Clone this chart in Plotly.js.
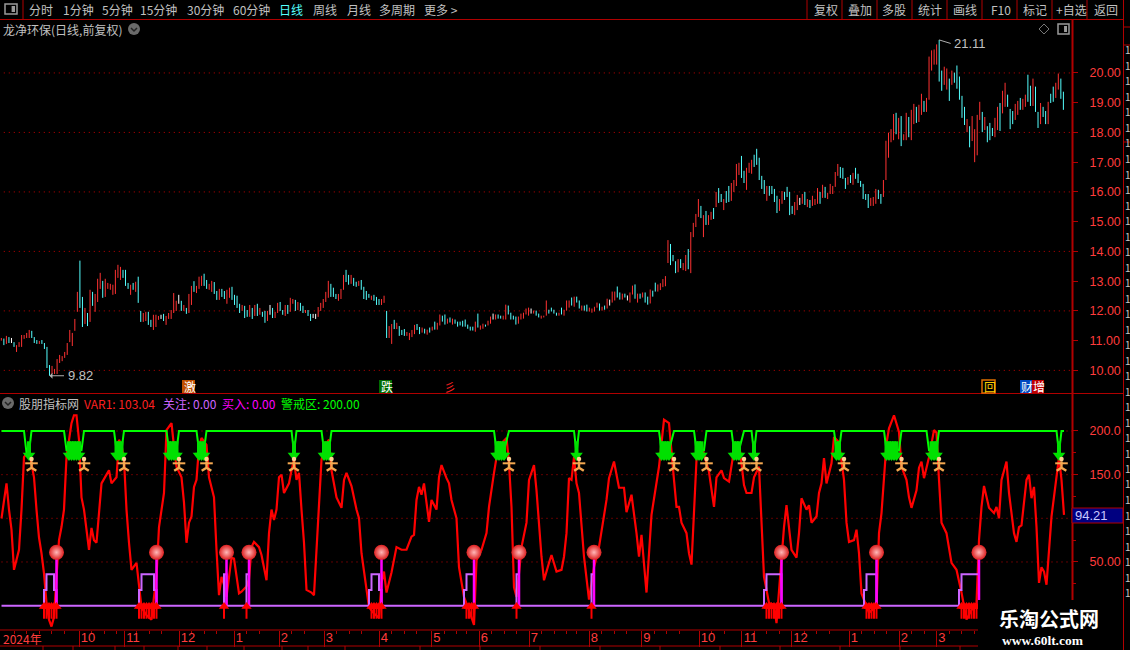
<!DOCTYPE html>
<html><head><meta charset="utf-8">
<script src="https://cdn.plot.ly/plotly-3.0.1.min.js"></script>
<style>html,body{margin:0;padding:0;background:#000}#chart{width:1130px;height:650px}</style>
</head><body><div id="chart"></div>
<script>
// ---------- price bars (one entry per bar) ----------
const priceHigh=[
11.09,11.07,11.16,11.12,11.09,10.95,10.85,10.95,11.19,11.19,11.26,11.36,11.33,11.12,11.02,10.99,11.02,10.92,10.79,10.18,
10.15,10.05,10.38,10.52,10.48,10.62,10.92,11.36,11.26,11.73,12.64,13.69,12.47,12.1,11.93,12.71,12.64,12.57,13.08,13.28,
13.01,13.08,12.94,12.91,12.88,13.38,13.55,13.48,13.38,13.38,12.94,12.88,12.94,12.98,13.15,12.0,11.93,11.97,11.97,11.7,
11.87,11.87,11.83,11.87,11.9,11.83,11.93,12.03,12.6,12.34,12.54,12.34,12.2,12.1,12.57,12.84,13.0,12.84,13.15,
13.18,13.25,13.04,12.91,13.01,12.97,12.67,12.74,12.74,12.67,12.71,12.78,12.81,12.54,12.51,12.24,12.2,12.17,12.03,12.2,
12.1,12.2,12.24,12.1,11.97,12.0,12.0,12.2,12.1,11.97,12.27,12.3,12.03,12.2,12.2,12.44,12.4,12.37,12.3,12.27,
12.17,12.03,12.03,11.9,11.9,11.9,12.13,12.27,12.4,12.64,13.01,12.91,12.78,12.57,12.57,12.74,13.21,13.38,13.21,13.21,
13.11,12.98,13.01,13.04,12.81,12.67,12.57,12.51,12.54,12.47,12.4,12.4,12.51,12.0,11.49,11.56,11.7,11.6,11.49,11.36,
11.39,11.29,11.26,11.36,11.53,11.56,11.46,
11.44,11.4,11.37,11.44,11.47,11.64,11.6,11.88,11.84,11.88,11.74,11.78,11.74,11.71,11.64,11.64,11.67,11.71,11.54,11.47,
11.47,11.64,11.91,11.51,11.57,11.54,11.67,11.81,11.91,11.88,11.88,11.84,11.84,12.21,12.18,11.94,11.84,11.81,11.81,11.91,
11.94,12.08,12.11,12.08,12.01,12.01,11.91,11.84,11.84,12.35,12.04,12.11,12.04,11.94,11.94,12.11,12.04,12.35,12.35,12.45,
12.48,12.48,12.35,12.18,12.18,12.21,12.11,12.08,12.14,12.28,12.25,12.14,12.18,12.41,12.38,12.65,12.65,12.82,12.62,12.58,
12.58,12.52,12.62,12.85,12.89,12.58,12.58,12.62,12.62,12.48,12.72,12.68,12.95,12.89,
12.93,13.07,13.17,14.38,14.25,13.88,13.67,13.74,13.74,13.61,13.88,14.08,14.65,14.96,15.26,15.76,15.53,15.22,15.36,15.22,
15.33,15.46,16,16.13,15.93,15.76,16.03,16.2,16.3,16.4,16.94,16.98,17.21,16.71,16.81,16.98,17.08,17.25,17.45,17.15,
16.54,16.4,16.2,16.2,16.2,16.1,15.87,15.76,16.03,16,16.17,16,15.53,15.66,15.9,15.8,15.93,16,15.76,15.73,
15.87,15.76,16.13,16,16.24,16.17,15.97,16.27,16.2,16.67,16.94,16.84,16.81,16.47,16.5,16.57,16.64,16.81,16.61,16.37,
16.27,15.93,15.93,15.8,15.83,16.1,16.07,15.93,16.4,17.72,17.99,18.11,18.62,18.66,18.49,
18.55,17.94,18.66,18.52,18.76,18.96,18.86,18.93,19.3,19.06,19.16,20.55,20.76,20.79,20.96,21.11,20.08,20.21,20.15,19.81,
20.08,20.01,20.25,19.88,19.23,18.86,18.45,18.21,18.55,18.11,18.59,19.03,18.69,18.52,18.21,18.32,18.15,18.49,18.86,18.99,
19.4,19.67,19.27,18.79,18.72,18.96,19.06,19.16,19.13,19.27,19.94,19.57,19.81,19.54,18.69,18.99,18.86,18.72,19.03,19.3,
19.54,19.67,19.98,19.81,19.37];
const priceLow=[
11.0,10.85,10.89,10.92,10.92,10.79,10.62,10.79,10.79,11.06,11.09,11.09,11.09,10.92,10.89,10.89,10.89,10.72,10.08,9.82,
9.88,9.88,9.88,10.25,10.31,10.42,10.52,10.95,10.82,11.33,11.97,12.1,11.46,11.56,11.49,11.63,12.17,11.97,12.3,12.74,
12.44,12.47,12.74,12.71,12.54,12.57,13.11,13.04,13.11,12.84,12.74,12.54,12.71,12.64,12.27,11.63,11.63,11.66,11.53,11.46,
11.36,11.46,11.7,11.73,11.66,11.53,11.73,11.73,11.93,12.0,12.24,12.0,12.0,11.9,11.93,12.2,12.64,12.6,12.74,
12.84,12.84,12.74,12.71,12.64,12.57,12.37,12.37,12.47,12.4,12.24,12.44,12.37,12.2,12.1,11.93,12.0,11.76,11.8,11.8,
11.73,11.83,11.83,11.87,11.8,11.6,11.66,11.87,11.76,11.76,11.93,12.0,11.87,11.83,11.9,11.97,12.24,12.0,12.03,12.0,
11.93,11.93,11.83,11.66,11.76,11.73,11.8,12.0,12.1,12.3,12.44,12.47,12.47,12.4,12.34,12.4,12.71,12.97,12.88,12.91,
12.84,12.81,12.84,12.71,12.4,12.37,12.44,12.37,12.34,12.2,12.2,12.2,12.27,11.09,11.09,10.89,11.39,11.39,11.16,11.19,
11.16,11.16,11.02,11.12,11.22,11.36,11.22,
11.27,11.24,11.2,11.27,11.34,11.37,11.37,11.51,11.64,11.54,11.57,11.61,11.54,11.57,11.47,11.51,11.47,11.47,11.4,11.34,
11.34,11.3,11.44,11.37,11.4,11.47,11.51,11.57,11.71,11.71,11.74,11.74,11.71,11.71,11.88,11.71,11.71,11.54,11.57,11.71,
11.74,11.88,11.84,11.91,11.91,11.84,11.78,11.74,11.78,11.84,11.91,11.98,11.91,11.84,11.84,11.88,11.84,12.01,12.11,12.18,
12.14,12.28,12.08,12.01,12.01,11.98,11.98,11.94,11.98,12.11,12.01,12.01,12.04,12.08,12.18,12.28,12.35,12.45,12.38,12.38,
12.45,12.35,12.28,12.55,12.41,12.28,12.41,12.45,12.28,12.21,12.25,12.48,12.65,12.65,
12.7,12.8,12.83,13.61,13.54,13.67,13.27,13.3,13.44,13.37,13.34,13.4,13.27,14.48,14.82,15.16,15.12,14.48,14.89,14.89,
15.06,15.09,15.49,15.63,15.66,15.39,15.63,15.66,15.7,16,16.2,16.57,16.47,16.3,16.07,16.64,16.61,16.84,16.91,16.4,
16.1,15.93,15.7,15.87,15.93,15.66,15.29,15.36,15.6,15.73,15.83,15.22,15.26,15.22,15.39,15.56,15.6,15.56,15.49,15.46,
15.53,15.56,15.6,15.6,15.8,15.8,15.76,15.93,15.93,16.17,16.54,16.47,16.44,16.1,16.24,16.3,16.24,16.44,16.3,16.17,
15.76,15.73,15.46,15.53,15.53,15.6,15.76,15.6,15.83,16.4,17.15,17.67,17.74,17.94,17.77,
17.54,17.74,17.74,17.84,17.74,18.28,18.32,18.35,18.59,18.69,18.69,19.1,20.08,20.28,20.28,19.71,19.4,19.6,19.44,19.06,
19.6,19.67,19.47,19.1,18.49,18.25,18.01,17.5,17.71,17,17.23,18.42,18.01,18.08,17.67,17.74,17.88,17.84,18.08,18.05,
18.64,18.86,18.86,18.11,18.28,18.42,18.59,18.76,18.76,18.86,19.03,18.89,18.89,18.69,18.15,18.28,18.52,18.28,18.28,18.99,
19.03,19.16,19.44,19.13,18.76];
// r = rising bar, c = falling bar, w = flat bar
const barKinds=[
"rcrcwcrrrr","rrcccrcccc","rrrrrrrrrr","rccrcrcrrr","crrrrrrrcc","crcrccrrcc","rrrwcrrrrr","wcrcrrcrr",
"rccrrccrcc","rrccccrccr","crcrccrwcr","rccrcrrcrc","crccwwrrrr","rcccrrrccr","ccrccccrcc","crrcrrcrcc","crrrrcc",
"rcrcrcrrcc","rcrccccccc","crcrrcrrwr","ccrrccccrr","rrrwrccrrr","ccccrcrrrc","rccrccrrrr","crcrwrrccr","cwrrcrcrcc","rccr",
"rrrrcccrcr","rcrrrrcrcr","rcrccrccrr","rrccrrrccc","ccrccccrrc","cccrrwrcrc","rrrcrcrrrr","rcccrcrccc","cccrrrccrr","rrrcr",
"crrcrrcrrc","rrrrrccrrc","rcccccrcrr","rrcrcccrrc","rrcccrrcrr","ccrccrccrc","crrcc"
].join("").split("");
const barIndex=priceHigh.map((_,i)=>i);

// ---------- indicator series ----------
const var1Bars=[0,2,3,4,5,6,7,8,9,11,13,14,15,16,17,18,19,20,21,22,23,24,25,26,27,28,29,30,31,32,33,34,35,36,37,38,39,40,42,43,44,46,47,48,49,50,51,52,54,55,56,58,60,61,62,63,64,65,66,68,69,70,72,73,74,75,76,77,78,79,80,82,83,85,86,87,88,89,90,91,92,93,95,96,98,99,100,101,103,104,106,107,108,109,110,111,112,113,115,116,117,118,119,120,121,122,124,125,127,128,130,131,132,134,136,137,138,140,142,143,144,146,147,149,151,152,153,154,156,158,160,
162,164,165,166,167,168,169,170,171,172,174,175,176,178,179,180,182,183,185,187,189,190,192,194,195,197,198,199,200,202,203,204,205,206,207,208,210,211,213,214,216,217,219,220,222,224,225,226,227,228,229,230,231,233,235,237,239,242,243,245,247,249,250,252,254,255,256,258,260,263,265,267,269,270,271,272,274,275,276,277,278,279,280,283,285,286,288,289,291,293,295,297,298,300,301,303,304,305,307,309,310,312,313,314,316,318,319,320,322,323,324,326,327,328,329,330,332,333,335,337,338,
339,341,342,343,344,345,347,350,351,352,353,354,355,357,359,360,362,363,364,366,367,368,369,371,373,374,375,376,378,380,382,384,386,388,390,391,392,393,395,397,398,399,400,402,403,405,406,407,408,410,411,412,413,414,415,416,417,418,420,422,423,424,425];
const var1Values=[100,140,110,87,41,52,64,110,170,178,147,110,78,60,37,3,-16,-24,-13,33,75,90,110,170,190,209,218,218,190,124,110,87,64,89,75,72,110,140,150,155,140,147,190,184,167,110,72,41,49,21,-2,-11,-16,10,33,90,110,129,201,209,182,159,147,118,72,95,102,136,144,182,192,184,147,124,64,12,33,24,10,30,55,54,14,16,22,30,67,73,67,58,29,83,110,98,110,147,150,129,140,155,167,144,152,110,72,18,15,12,110,167,186,190,155,124,112,144,152,137,110,100,60,18,-2,-9,-14,26,39,15,38,67,64,
64,79,81,121,136,127,140,118,96,121,110,147,161,146,140,121,100,44,10,-5,-22,52,64,83,113,152,170,187,186,192,163,113,21,10,37,67,95,144,161,132,56,29,49,58,39,41,56,83,146,144,170,140,129,56,7,44,67,121,146,165,135,135,107,127,83,56,81,15,104,159,213,209,144,113,113,95,83,60,47,102,167,187,184,153,113,147,155,146,142,178,187,138,129,129,147,159,102,33,3,1,-20,56,90,115,64,55,83,123,110,115,95,102,129,140,169,140,163,193,187,144,95,
73,75,87,60,14,7,-8,-1,83,106,147,186,203,218,199,159,144,124,112,132,158,165,146,170,201,198,144,95,83,49,41,15,-16,-5,3,75,113,137,112,106,113,100,144,165,129,83,73,90,92,144,150,123,136,90,26,44,39,24,102,152,170,144,104];
// warning-zone line: stays at 200, dips where VAR1 is in the warning band
const alertBars=[0,9,10,11,12,25,26,32,33,45,46,48,49,66,67,70,71,78,79,81,82,116,117,118,128,129,131,132,197,198,201,203,229,230,231,263,264,267,269,277,278,281,282,292,293,295,297,300,301,302,333,334,335,336,353,354,359,360,370,371,374,375,422,423,424,425];
const alertValues=[200,200,175,175,200,200,178,178,200,200,178,178,200,200,178,178,200,200,178,178,200,200,175,200,200,178,178,200,200,178,178,200,200,175,200,200,178,178,200,200,178,178,200,200,178,178,200,200,175,200,200,178,178,200,200,178,178,200,200,178,178,200,200,175,200,200];
const watchBars=[0,16,17,18,20,21,22,54,55,56,60,61,62,88,89,90,97,98,99,146,147,148,150,151,152,184,185,186,188,189,205,206,207,235,236,237,304,305,306,311,312,344,345,346,349,350,382,383,384,390,391,425];
const watchValues=[0,0,18,36,36,18,0,0,18,36,36,18,0,0,36,0,0,36,0,0,18,36,36,18,0,0,18,36,36,0,0,36,0,0,36,0,0,18,36,36,0,0,18,36,36,0,0,18,36,36,0,0];
const buyBars=[22,62,90,99,152,189,207,237,312,350,391];
const buyStickTop=[69,69,69,69,69,69,69,69,69,69,69];
const buyBallLevel=[61,61,61,61,61,61,61,61,61,61,61];
const alertArrowBars=[11,27,28,29,30,31,46,47,48,67,68,69,70,79,80,81,117,129,130,131,198,199,200,201,230,264,265,266,267,278,279,280,293,294,295,301,334,335,354,355,356,357,358,372,373,374,423];
const watchArrowBars=[17,18,19,20,21,22,55,56,57,58,59,60,61,62,89,98,148,149,150,151,152,186,187,188,189,206,236,306,307,308,309,310,311,312,346,347,348,349,350,384,385,386,387,388,389,390];
const runnerBars=[12,33,49,71,82,117,132,203,231,269,282,297,302,337,360,375,424];

// ---------- axis texts ----------
const monthTickBars=[31,49,71,93,111,129,151,172,191,211,235,256,279,296,316,339,359,374];
const monthTickLabels=["10","11","12","1\u00a0\u00a0","2\u00a0\u00a0","3\u00a0\u00a0","4\u00a0\u00a0","5\u00a0\u00a0","6\u00a0\u00a0","7\u00a0\u00a0","8\u00a0\u00a0","9\u00a0\u00a0","10","11","12","1\u00a0\u00a0","2\u00a0\u00a0","3\u00a0\u00a0"];
const priceTicks=[10,11,12,13,14,15,16,17,18,19,20];
const priceGridLevels=[10,12,14,16,18,20];
const indicatorLevels=[200,150,100,50];
const indicatorTickText=["200.0","150.0","","50.00"];
const leftTools=[["分时",28],["1分钟",62],["5分钟",101],["15分钟",139],["30分钟",186],["60分钟",232],["日线",278],["周线",312],["月线",346],["多周期",378],["更多 >",423]];
const rightTools=[["复权",813],["叠加",847],["多股",881],["统计",917],["画线",952],["F10",990],["标记",1022],["+自选",1055],["返回",1093]];
const toolSeparators=[807,842,877,912,947,982,1017,1052,1087];
const footSeparators=[43,73,115,144,178,207,244,282,308,345,420,480,540,600,660,720,780,840,900,960];

// ---------- layout helpers ----------
const W=1130,H=650,RED="#b00000",NUM="'Liberation Sans Narrow','Liberation Sans',sans-serif",CJK="'Noto Sans CJK SC',sans-serif";
const px=x=>x/W, py=y=>1-y/H;
function label(text,x,y,color,size,opt={}){return Object.assign({xref:"paper",yref:"paper",x:px(x),y:py(y),xanchor:"left",yanchor:"middle",showarrow:false,text,borderpad:0,font:{family:CJK,size,color}},opt);}
function hline(y,x0,x1,c=RED,w=1){return {type:"line",xref:"paper",yref:"paper",x0:px(x0),x1:px(x1),y0:py(y),y1:py(y),line:{color:c,width:w}};}
function vline(x,y0,y1,c=RED,w=1){return {type:"line",xref:"paper",yref:"paper",x0:px(x),x1:px(x),y0:py(y0),y1:py(y1),line:{color:c,width:w}};}
function box(x0,y0,x1,y1,fill,border,w=1){return {type:"rect",xref:"paper",yref:"paper",x0:px(x0),x1:px(x1),y0:py(y0),y1:py(y1),fillcolor:fill,line:{color:border||fill,width:border?w:0}};}
function outline(points,c,w,close){return {type:"path",xref:"paper",yref:"paper",path:points.map((p,i)=>(i?"L":"M")+px(p[0])+" "+py(p[1])).join(" ")+(close?" Z":""),line:{color:c,width:w}};}
function chevronIcon(x,y){return [{type:"circle",xref:"paper",yref:"paper",x0:px(x-6),x1:px(x+6),y0:py(y-6),y1:py(y+6),fillcolor:"#6a6a6a",line:{width:0}},outline([[x-3,y-1],[x,y+2],[x+3,y-1]],"#222",1.5)];}
function panelIcon(x,y,w,h,c){return [box(x,y,x+w,y+h,"rgba(0,0,0,0)",c,1.5),box(x+w*0.55,y+2,x+w-2,y+h-2,c)];}

// ---------- traces ----------
const priceColor={r:"#ff3232",c:"#54ffff",w:"#ffffff"};
const traces=[];
["r","c","w"].forEach(k=>{
  const idx=barIndex.filter(i=>barKinds[i]===k);
  const up=k!=="c";
  traces.push({type:"ohlc",xaxis:"x",yaxis:"y",x:idx,
    open:idx.map(i=>up?priceLow[i]:priceHigh[i]),high:idx.map(i=>priceHigh[i]),
    low:idx.map(i=>priceLow[i]),close:idx.map(i=>up?priceHigh[i]:priceLow[i]),
    tickwidth:0,increasing:{line:{color:priceColor[k],width:1}},decreasing:{line:{color:priceColor[k],width:1}},
    hoverinfo:"skip",showlegend:false});
});
const lowerAxes={xaxis:"x2",yaxis:"y2",hoverinfo:"skip",showlegend:false};
function stems(bars,tops){const x=[],y=[];bars.forEach((b,i)=>{x.push(b,b,null);y.push(0,tops[i],null);});return {x,y};}
traces.push(Object.assign({type:"scatter",mode:"lines",x:var1Bars,y:var1Values,line:{color:"#ff0000",width:2.2}},lowerAxes));
traces.push(Object.assign({type:"scatter",mode:"lines",x:alertBars,y:alertValues,line:{color:"#00ff00",width:2}},lowerAxes));
traces.push(Object.assign({type:"scatter",mode:"lines",x:watchBars,y:watchValues,line:{color:"#cc66ff",width:2,shape:"hv"}},lowerAxes));
traces.push(Object.assign({type:"scatter",mode:"lines",line:{color:"#ff00ff",width:2.5}},stems(buyBars,buyStickTop),lowerAxes));
traces.push(Object.assign({type:"scatter",mode:"markers",x:alertArrowBars,y:alertArrowBars.map(()=>181),marker:{symbol:"line-ns",size:9,line:{color:"#00e000",width:4}}},lowerAxes));
traces.push(Object.assign({type:"scatter",mode:"markers",x:alertArrowBars,y:alertArrowBars.map(()=>172),marker:{symbol:"triangle-down",size:11,color:"#00e000",line:{width:0}}},lowerAxes));
traces.push(Object.assign({type:"scatter",mode:"markers",x:watchArrowBars,y:watchArrowBars.map(()=>-7),marker:{symbol:"line-ns",size:10,line:{color:"#ff0000",width:2}}},lowerAxes));
traces.push(Object.assign({type:"scatter",mode:"markers",x:watchArrowBars,y:watchArrowBars.map(()=>-1),marker:{symbol:"triangle-up",size:9,color:"#ff0000",line:{width:0}}},lowerAxes));
traces.push(Object.assign({type:"scatter",mode:"markers",x:runnerBars,y:runnerBars.map(()=>158),marker:{symbol:"y-up",size:8,line:{color:"#f4a850",width:2.4}}},lowerAxes));
traces.push(Object.assign({type:"scatter",mode:"markers",x:runnerBars,y:runnerBars.map(()=>163),marker:{symbol:"line-ew",size:9,line:{color:"#f4a850",width:2}}},lowerAxes));
traces.push(Object.assign({type:"scatter",mode:"markers",x:runnerBars,y:runnerBars.map(()=>168),marker:{symbol:"circle",size:4.5,color:"#ffd090",line:{width:0}}},lowerAxes));
traces.push(Object.assign({type:"scatter",mode:"markers",x:buyBars,y:buyBallLevel,marker:{symbol:"circle",size:15,color:"#dd2020",gradient:{type:"radial",color:"#ffb8b8"},line:{width:0}}},lowerAxes));

// ---------- shapes ----------
const shapes=[];
priceGridLevels.forEach(v=>shapes.push({type:"line",layer:"below",xref:"x",yref:"y",x0:-1,x1:423,y0:v,y1:v,line:{color:"#c00000",width:1,dash:"1px,4px"}}));
indicatorLevels.forEach(v=>shapes.push({type:"line",layer:"below",xref:"x2",yref:"y2",x0:0,x1:429,y0:v,y1:v,line:{color:"#c00000",width:1,dash:"1px,4px"}}));
shapes.push(hline(19.5,0,1123),hline(393.5,0,1123),vline(23,0,19),vline(1072.5,19,630,RED,2),vline(1123.5,0,650),hline(27,1123,1130),hline(45,1123,1130),hline(142,1123,1130));
toolSeparators.forEach(x=>shapes.push(vline(x,0,19)));
shapes.push(hline(630,0,1072),hline(646,0,1072));
footSeparators.forEach(x=>shapes.push(vline(x,646,650)));
shapes.push(box(1072,508,1123,523,"#000080",RED));
panelIcon(5,4,12,10,"#9a9a9a").forEach(s=>shapes.push(s));
panelIcon(1058,24,11,10,"#9a9a9a").forEach(s=>shapes.push(s));
shapes.push(outline([[1044,24],[1049,29],[1044,34],[1039,29]],"#777",1,true));
chevronIcon(134,29).forEach(s=>shapes.push(s));
chevronIcon(8,403).forEach(s=>shapes.push(s));
shapes.push(box(182,380,195,393,"#c04f00"),box(379,380,392,393,"#006b00"),box(982,380,995,393,"#000","#e07000",1.5),box(1020,380,1032,393,"#0048c0"),box(1032,380,1044,393,"#c00000"));
shapes.push(box(978,600,1123,650,"#000"));

// ---------- annotations ----------
const notes=[];
leftTools.forEach(([t,x])=>notes.push(label(t,x,9.5,t==="日线"?"#55ffff":"#c0c0c0",12)));
rightTools.forEach(([t,x])=>notes.push(label(t,x,9.5,"#c0c0c0",12)));
notes.push(label("龙净环保(日线,前复权)",2,29.5,"#c0c0c0",12));
notes.push(label("股朋指标网",18,403.5,"#c0c0c0",12));
notes.push(label("VAR1: 103.04",83,403.5,"#ff2020",12));
notes.push(label("关注: 0.00",162,403.5,"#cc66ff",12));
notes.push(label("买入: 0.00",221,403.5,"#ff00ff",12));
notes.push(label("警戒区: 200.00",280,403.5,"#00ff00",12));
notes.push(label("2024年",2,638,"#ff3c3c",12));
notes.push(label("94.21",1074,515.5,"#c8c8ff",13,{font:{family:NUM,size:13,color:"#c8c8ff"}}));
[["激",183,"#ffffff"],["跌",380,"#ffffff"],["彡",443,"#ff2020"],["回",983,"#ffd000"],["财",1020,"#ffffff"],["增",1032,"#ffffff"]].forEach(([t,x,c])=>notes.push(label(t,x,386.5,c,12)));
notes.push(label("乐淘公式网",998,618.5,"#ffffff",20,{font:{family:"'Noto Sans CJK SC',sans-serif",size:20,color:"#ffffff",weight:700}}));
notes.push(label("www.60lt.com",1001,640.5,"#ffffff",13,{font:{family:"'Liberation Serif',serif",size:13.5,color:"#ffffff",weight:700}}));
const highBar=priceHigh.indexOf(Math.max(...priceHigh)), lowBar=priceLow.indexOf(Math.min(...priceLow));
notes.push({xref:"x",yref:"y",x:highBar,y:Math.max(...priceHigh),ax:13,ay:4,showarrow:true,arrowhead:0,arrowwidth:1,arrowcolor:"#b0b0b0",text:""});
notes.push({xref:"x",yref:"y",x:highBar,y:Math.max(...priceHigh),xshift:13,yshift:-4,xanchor:"left",yanchor:"middle",showarrow:false,text:"21.11",font:{family:NUM,size:13,color:"#c0c0c0"}});
notes.push({xref:"x",yref:"y",x:lowBar,y:Math.min(...priceLow),ax:16,ay:0,showarrow:true,arrowhead:1,arrowwidth:1,arrowcolor:"#b0b0b0",text:""});
notes.push({xref:"x",yref:"y",x:lowBar,y:Math.min(...priceLow),xshift:17,xanchor:"left",yanchor:"middle",showarrow:false,text:"9.82",font:{family:NUM,size:13,color:"#c0c0c0"}});
for(let y=50;y<600;y+=15.5) notes.push(label("1",1124,y,"#c8c8c8",10));

const layout={width:W,height:H,paper_bgcolor:"#000",plot_bgcolor:"#000",margin:{l:0,r:0,t:0,b:0},showlegend:false,dragmode:false,hovermode:false,
  xaxis:{domain:[0,1072/W],anchor:"y",range:[-0.525,422.4],visible:false,fixedrange:true,rangeslider:{visible:false}},
  xaxis2:{domain:[0,1072/W],anchor:"y2",range:[-0.6,428.2],fixedrange:true,showgrid:false,zeroline:false,showline:false,
    tickmode:"array",tickvals:monthTickBars,ticktext:monthTickLabels,ticks:"outside",ticklen:16,tickcolor:RED,tickwidth:1,
    tickfont:{family:NUM,size:13,color:"#ff3c3c"},ticklabelstandoff:-21,ticklabelshift:9,
    minor:{ticks:"outside",ticklen:3,tickcolor:RED,tickvals:[5,10,15,20,25,36,41,46,54,59,64,76,81,86,98,103,116,121,134,139,144,156,161,166,177,182,186,196,201,206,216,221,226,230,240,245,250,261,266,271,284,289,301,306,311,321,326,331,344,349,354,364,369,379,384,389]}},
  yaxis:{domain:[py(393),py(20)],anchor:"x",side:"right",range:[9.24,21.78],fixedrange:true,showgrid:false,zeroline:false,showline:false,
    tickmode:"array",tickvals:priceTicks,tickformat:".2f",ticks:"outside",ticklen:5,tickcolor:RED,tickfont:{family:NUM,size:12.5,color:"#ff3c3c"},ticklabelstandoff:9},
  yaxis2:{domain:[py(630),py(393)],anchor:"x2",side:"right",range:[-27.9,243.5],fixedrange:true,showgrid:false,zeroline:false,showline:false,
    tickmode:"array",tickvals:indicatorLevels,ticktext:indicatorTickText,ticks:"outside",ticklen:5,tickcolor:RED,tickfont:{family:NUM,size:12.5,color:"#ff3c3c"},ticklabelstandoff:9,
    minor:{ticks:"outside",ticklen:3,tickcolor:RED,tickvals:[175,125,75,25]}},
  shapes,annotations:notes};
Plotly.newPlot("chart",traces,layout,{staticPlot:true,displayModeBar:false});
</script>
</body></html>
